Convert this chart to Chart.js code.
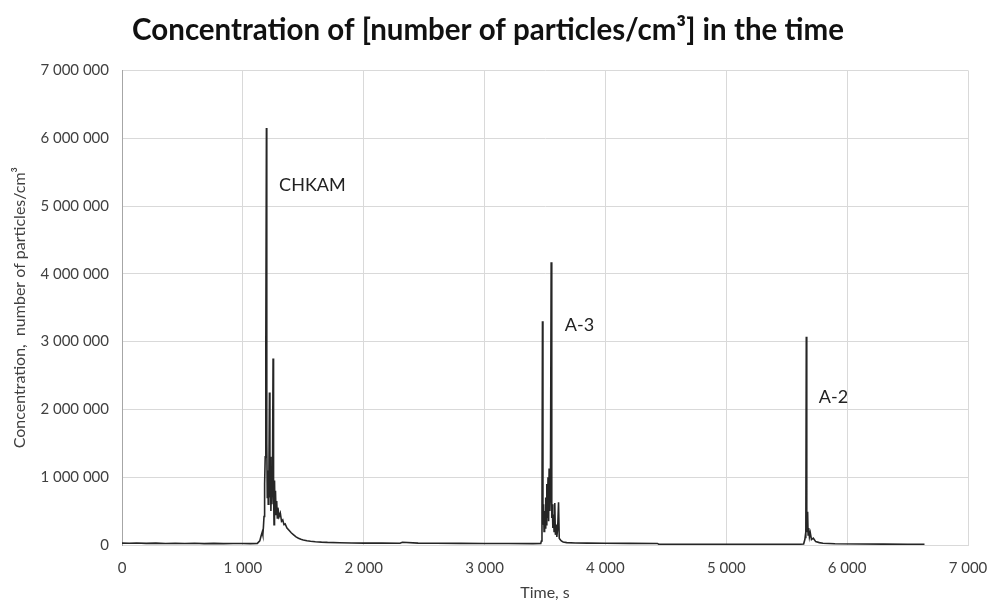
<!DOCTYPE html>
<html lang="en">
<head>
    <meta charset="UTF-8">
    <title>Concentration in the time</title>
    <script src="https://cdn.jsdelivr.net/npm/chart.js"></script>
    <style>
        html, body { margin: 0; padding: 0; background: #fff; }
        #wrap { width: 992px; height: 610px; }
    </style>
</head>
<body>
    <div id="wrap"><canvas id="concChart"></canvas></div>
    <script>
        // Time, s
        const timeSec = [
            0, 60, 120, 200, 280, 360, 440, 520, 600, 680, 760, 840, 920, 1000, 1060, 1120,
            1140, 1150, 1160, 1165, 1170, 1175, 1180, 1185, 1190, 1195, 1198, 1202, 1206, 1210,
            1215, 1220, 1224, 1228, 1232, 1236, 1240, 1245, 1250, 1254, 1258, 1262, 1266, 1270,
            1275, 1280, 1285, 1290, 1300, 1310, 1320, 1330, 1340, 1350, 1365, 1380, 1400, 1420,
            1440, 1460, 1480, 1500, 1530, 1560, 1600, 1650, 1700, 1800, 1900, 2000, 2150, 2300,
            2320, 2450, 2600, 2800, 3000, 3200, 3400, 3465,
            3470, 3475, 3479, 3483, 3488, 3492, 3497, 3502, 3506, 3510, 3515, 3520, 3525, 3530,
            3534, 3540, 3545, 3551, 3556, 3560, 3565, 3570, 3575, 3581, 3586, 3592, 3598, 3605,
            3612, 3618, 3625, 3635, 3650, 3680, 3750, 3850, 4000, 4200, 4430, 4440, 4700, 5000,
            5300, 5600, 5640,
            5650, 5655, 5658, 5662, 5666, 5670, 5673, 5677, 5682, 5688, 5695, 5705, 5720, 5740,
            5770, 5800, 5900, 6100, 6300, 6500, 6640
        ];
        // Concentration, number of particles/cm3
        const concentration = [
            28000, 25000, 30000, 24000, 27000, 22000, 26000, 23000, 25000, 21000, 24000, 20000, 23000, 22000, 20000, 24000,
            60000, 130000, 190000, 150000, 260000, 420000, 900000, 1300000, 3000000, 6150000, 1500000, 700000, 1100000, 600000,
            900000, 2250000, 700000, 1300000, 500000, 900000, 600000, 1000000, 2750000, 800000, 300000, 950000, 500000, 800000,
            450000, 650000, 400000, 550000, 420000, 470000, 350000, 370000, 300000, 310000, 250000, 220000, 180000, 150000,
            120000, 100000, 85000, 75000, 62000, 55000, 48000, 42000, 38000, 34000, 30000, 28000, 27000, 26000,
            40000, 27000, 25000, 24000, 23000, 22000, 21000, 22000,
            60000, 500000, 3300000, 300000, 600000, 200000, 500000, 250000, 700000, 300000, 900000, 400000, 1000000, 350000,
            1130000, 500000, 800000, 4170000, 400000, 600000, 250000, 450000, 200000, 620000, 150000, 300000, 120000, 250000,
            630000, 100000, 80000, 60000, 45000, 35000, 30000, 27000, 25000, 24000, 23000, 12000, 11000, 10000,
            11000, 10000, 15000,
            80000, 150000, 100000, 3070000, 300000, 200000, 490000, 150000, 250000, 120000, 180000, 80000, 100000, 50000,
            35000, 25000, 18000, 15000, 13000, 12000, 12000
        ];
        // Axis ticks
        const timeTicks = [0, 1000, 2000, 3000, 4000, 5000, 6000, 7000];
        const concTicks = [0, 1000000, 2000000, 3000000, 4000000, 5000000, 6000000, 7000000];
        // Sample labels next to the peaks
        const labelText = ['CHKAM', 'A-3', 'A-2'];
        const labelTime = [1300, 3664, 5766];
        const labelConc = [5300000, 3240000, 2180000];

        function spaced(v) {
            return String(v).replace(/\B(?=(\d{3})+(?!\d))/g, ' ');
        }

        const peakLabels = {
            id: 'peakLabels',
            afterDatasetsDraw(chart) {
                const ctx = chart.ctx;
                const xs = chart.scales.x, ys = chart.scales.y;
                ctx.save();
                ctx.font = '18px Lato';
                ctx.fillStyle = '#222';
                ctx.textAlign = 'left';
                ctx.textBaseline = 'middle';
                labelText.forEach((t, i) => {
                    ctx.fillText(t, xs.getPixelForValue(labelTime[i]), ys.getPixelForValue(labelConc[i]));
                });
                ctx.restore();
            }
        };

        const points = timeSec.map((t, i) => ({ x: t, y: concentration[i] }));

        new Chart(document.getElementById('concChart'), {
            type: 'scatter',
            data: {
                datasets: [{
                    data: points,
                    showLine: true,
                    borderColor: '#262626',
                    borderWidth: 1.6,
                    pointRadius: 0,
                    tension: 0
                }]
            },
            options: {
                responsive: true,
                maintainAspectRatio: false,
                animation: false,
                layout: { padding: { left: 8, right: 24, top: 0, bottom: 6 } },
                plugins: {
                    legend: { display: false },
                    tooltip: { enabled: false },
                    title: {
                        display: true,
                        text: 'Concentration of [number of particles/cm³] in the time',
                        color: '#111',
                        font: { family: 'Lato', size: 29.5, weight: 'bold' },
                        padding: { top: 13, bottom: 22 }
                    }
                },
                scales: {
                    x: {
                        type: 'linear',
                        min: 0,
                        max: 7000,
                        afterBuildTicks: s => { s.ticks = timeTicks.map(v => ({ value: v })); },
                        afterFit: s => { s.height = 59; s.paddingLeft = 0; s.paddingRight = 0; },
                        grid: { color: '#d9d9d9', drawTicks: false },
                        border: { color: '#d9d9d9' },
                        ticks: {
                            color: '#404040',
                            font: { family: 'Lato', size: 15 },
                            padding: 14,
                            maxRotation: 0,
                            callback: v => spaced(v)
                        },
                        title: {
                            display: true,
                            text: 'Time, s',
                            color: '#404040',
                            font: { family: 'Lato', size: 16 },
                            padding: { top: 0, bottom: 2 }
                        }
                    },
                    y: {
                        min: 0,
                        max: 7000000,
                        afterBuildTicks: s => { s.ticks = concTicks.map(v => ({ value: v })); },
                        afterFit: s => { s.width = 114; },
                        grid: { color: '#d9d9d9', drawTicks: false },
                        border: { color: '#a6a6a6' },
                        ticks: {
                            color: '#404040',
                            font: { family: 'Lato', size: 15 },
                            padding: 13,
                            callback: v => spaced(v)
                        },
                        title: {
                            display: true,
                            text: 'Concentration,  number of particles/cm³',
                            color: '#404040',
                            font: { family: 'Lato', size: 16 },
                            padding: { top: 2, bottom: 0 }
                        }
                    }
                }
            },
            plugins: [peakLabels]
        });
    </script>
</body>
</html>
